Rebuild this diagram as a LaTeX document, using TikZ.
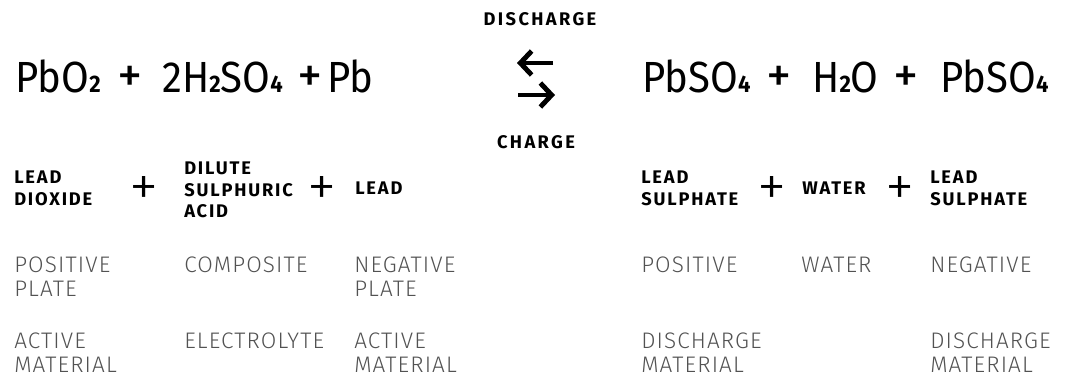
\documentclass[tikz,border=0pt]{standalone}
\usepackage{fontspec}
\setmainfont{Fira Sans}
\newfontfamily\lightfont[LetterSpace=5]{Fira Sans Light}
\newfontfamily\plusfont{Fira Sans Light}
\usetikzlibrary{arrows.meta}

\newcommand{\sub}[1]{{\fontsize{17}{17}\selectfont\bfseries #1}}

\tikzset{
	formula/.style={anchor=base west,inner sep=0pt,font=\fontsize{31}{31}\selectfont\addfontfeatures{FakeStretch=0.92}},
	oplus/.style={anchor=base,inner sep=0pt,font=\fontsize{36}{36}\selectfont},
	label/.style={anchor=north west,inner sep=0pt,align=left,
		font=\fontsize{13}{15}\selectfont\bfseries\addfontfeatures{LetterSpace=10}},
	word/.style={inner sep=0pt,font=\fontsize{13}{13}\selectfont\bfseries\addfontfeatures{LetterSpace=13}},
	bigplus/.style={inner sep=0pt,font=\fontsize{42}{42}\selectfont\plusfont},
	note/.style={anchor=north west,inner sep=0pt,align=left,text=black!68,
		font=\fontsize{16}{16.4}\selectfont\lightfont},
	flow/.style={line width=3.5pt,-{Straight Barb[length=8pt,width=17pt]}},
}

\begin{document}
\begin{tikzpicture}[x=0.025cm,y=-0.025cm]
		\useasboundingbox (0,0) rectangle (1080,376);
		% reaction
		\node[formula] (pbo2) at (15,92) {PbO\sub{2}};
		\node[oplus] (opa) at (130,92) {+};
		\node[formula] (acid) at (162,92) {2H\sub{2}SO\sub{4}};
		\node[oplus] (opb) at (310,92) {+};
		\node[formula] (pb) at (327,92) {Pb};
		\node[formula] (pbsoa) at (642,92) {PbSO\sub{4}};
		\node[oplus] (opc) at (779,92) {+};
		\node[formula] (water) at (812,92) {H\sub{2}O};
		\node[oplus] (opd) at (906,92) {+};
		\node[formula] (pbsob) at (940,92) {PbSO\sub{4}};
		% direction
		\node[word,anchor=north] (dis) at (540,12) {DISCHARGE};
		\node[word,anchor=north] (chg) at (536,135) {CHARGE};
		\coordinate (la) at (553,63);
		\coordinate (lb) at (517,63);
		\coordinate (ra) at (518,95);
		\coordinate (rb) at (555,95);
		\draw[flow] (la)--(lb);
		\draw[flow] (ra)--(rb);
		% names
		\node[label] (leaddiox) at (14,171) {LEAD\\DIOXIDE};
		\node[label] (sulacid) at (184,162) {DILUTE\\SULPHURIC\\ACID};
		\node[label] (lead) at (355,182) {LEAD};
		\node[label] (leadsula) at (641,171) {LEAD\\SULPHATE};
		\node[label] (wat) at (802,182) {WATER};
		\node[label] (leadsulb) at (930,171) {LEAD\\SULPHATE};
		\foreach \i/\x in {a/144,b/322,c/772,d/900}{
			\node[bigplus] (plus\i) at (\x,191) {+};
		}
		% roles
		\node[note] (posa) at (14,257) {POSITIVE\\PLATE};
		\node[note] (comp) at (184,257) {COMPOSITE};
		\node[note] (nega) at (354,257) {NEGATIVE\\PLATE};
		\node[note] (posb) at (641,257) {POSITIVE};
		\node[note] (watb) at (801,257) {WATER};
		\node[note] (negb) at (930,257) {NEGATIVE};
		\node[note] (acta) at (14,333) {ACTIVE\\MATERIAL};
		\node[note] (elec) at (184,333) {ELECTROLYTE};
		\node[note] (actb) at (354,333) {ACTIVE\\MATERIAL};
		\node[note] (disa) at (641,333) {DISCHARGE\\MATERIAL};
		\node[note] (disb) at (930,333) {DISCHARGE\\MATERIAL};
	\end{tikzpicture}
\end{document}
